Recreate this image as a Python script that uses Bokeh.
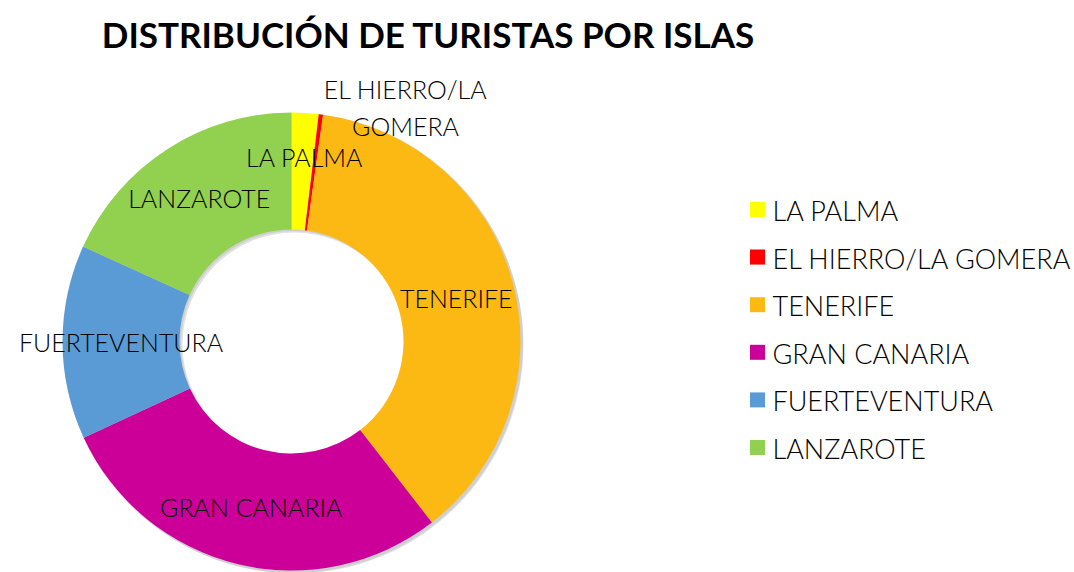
import numpy as np
import pandas as pd
from bokeh.plotting import figure
from bokeh.models import Range1d, ColumnDataSource
from bokeh.core.properties import value
from bokeh.embed import file_html
from bokeh.resources import INLINE

# ---- data ----
islands = ["LA PALMA", "EL HIERRO/LA GOMERA", "TENERIFE", "GRAN CANARIA", "FUERTEVENTURA", "LANZAROTE"]
shares = [1.9, 0.3, 37.3, 28.6, 13.7, 18.2]
colors = ["#FFFF00", "#FF0000", "#FDB913", "#CC0099", "#5B9BD5", "#92D050"]
title_text = "DISTRIBUCIÓN DE TURISTAS POR ISLAS"

W, H = 1074, 572
FONT = "Lato Light, Lato"

def sy(y):  # screen y -> data y
    return H - y

p = figure(width=W, height=H, x_range=Range1d(0, W), y_range=Range1d(0, H),
           output_backend="svg", toolbar_location=None, min_border=0)
p.axis.visible = False
p.grid.visible = False
p.outline_line_color = None
p.background_fill_color = "white"

cx, cy = 291, sy(341)
r_in, r_out = 112, 229

df = pd.DataFrame({"island": islands, "share": shares, "color": colors})
tot = df["share"].sum()
cum = df["share"].cumsum()
df["start"] = np.pi / 2 - (cum - df["share"]) / tot * 2 * np.pi
df["end"] = np.pi / 2 - cum / tot * 2 * np.pi
df["mid"] = (df["start"] + df["end"]) / 2
src = ColumnDataSource(df)

# soft shadow
p.annulus(x=cx + 3, y=cy - 3, inner_radius=r_in, outer_radius=r_out,
          fill_color="#888888", fill_alpha=0.25, line_color=None)
p.annulus(x=cx + 1.5, y=cy - 1.5, inner_radius=r_in, outer_radius=r_out + 1,
          fill_color="#888888", fill_alpha=0.2, line_color=None)

p.annular_wedge(x=cx, y=cy, inner_radius=r_in, outer_radius=r_out,
                start_angle="start", end_angle="end", direction="clock",
                fill_color="color", line_color=None, source=src)

# data labels
r_lab = (r_in + r_out) / 2
lx = cx + r_lab * np.cos(df["mid"].values)
ly = cy + r_lab * np.sin(df["mid"].values)
# nudges for the thin slices (label placement)
lx[0], ly[0] = lx[0] + 3, ly[0] + 14
lab_text = list(df["island"])
lab_text[1] = "EL HIERRO/LA\nGOMERA"
lx[1], ly[1] = 405, sy(107)
p.text(x=lx, y=ly, text=lab_text, text_font=value(FONT), text_font_size="25px",
       text_align="center", text_baseline="middle", text_color="#000000",
       text_line_height=1.22)

# legend
lg_x = 757
lg_y0 = 209
lg_dy = 47.6
ys = np.array([sy(lg_y0 + i * lg_dy) for i in range(len(islands))])
p.rect(x=[lg_x] * len(islands), y=ys, width=15, height=15, fill_color=colors, line_color=None)
p.text(x=[772] * len(islands), y=ys - 1, text=islands, text_font=value(FONT), text_font_size="27px",
       text_align="left", text_baseline="middle", text_color="#000000")

# title
p.text(x=[428], y=[sy(33)], text=[title_text], text_font=value("Lato"), text_font_size="35px",
       text_font_style="bold", text_align="center", text_baseline="middle", text_color="black")

open("out.html", "w").write(file_html(p, INLINE))
